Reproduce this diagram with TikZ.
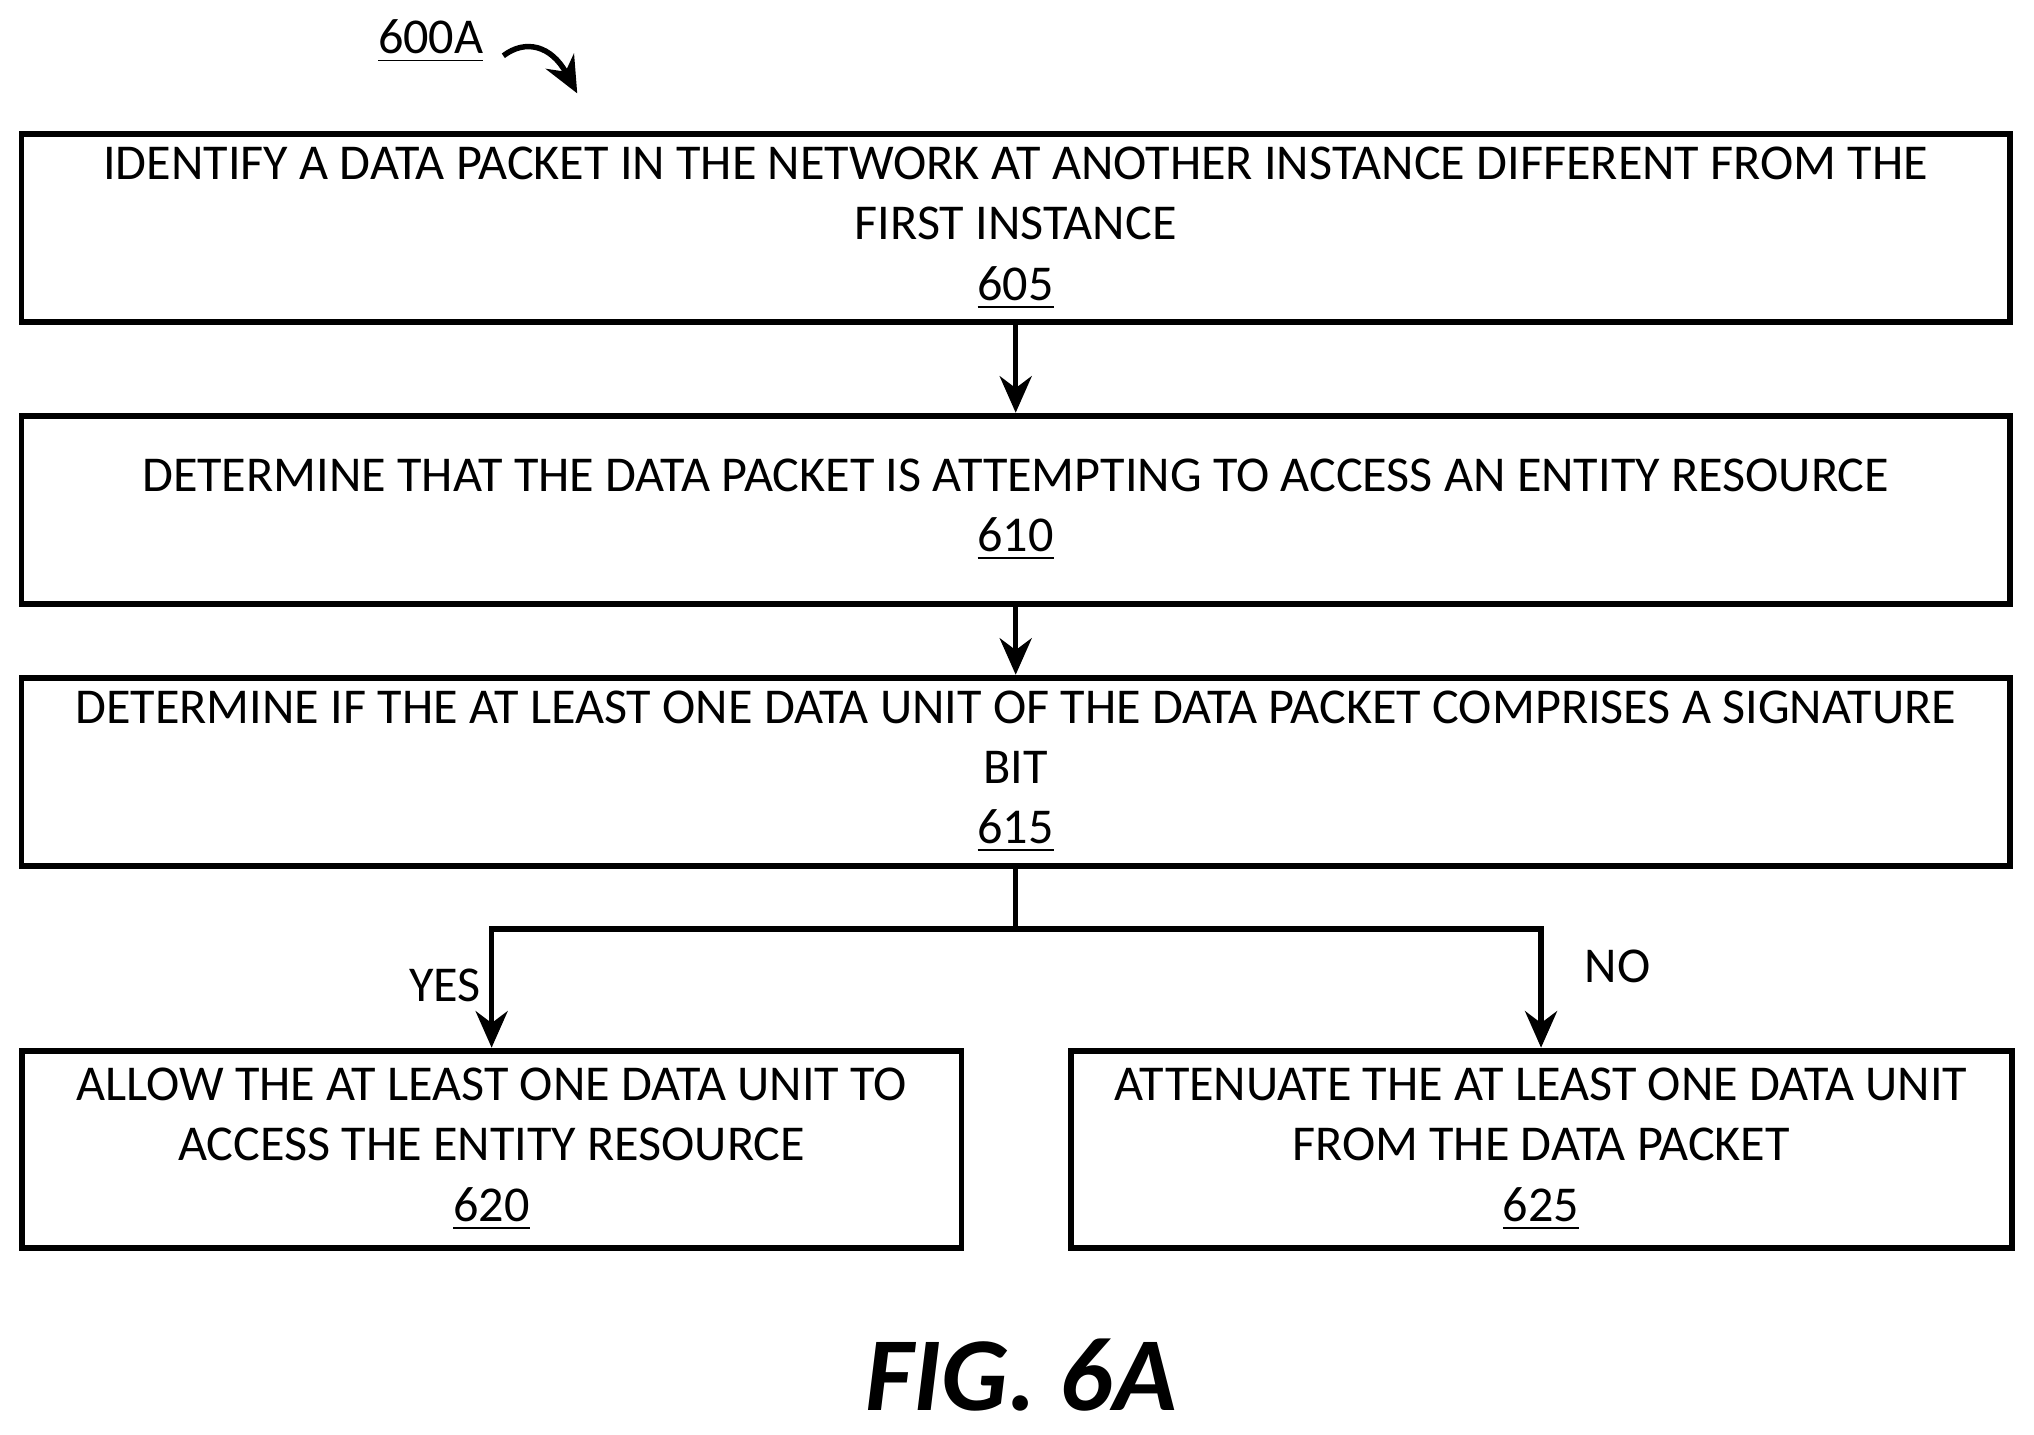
\documentclass[tikz,border=0pt]{standalone}
\usepackage{fontspec}
\setmainfont{Carlito}
\usetikzlibrary{arrows.meta}
\begin{document}
\begin{tikzpicture}[x=0.01cm,y=-0.01cm,
  box/.style={draw, line width=1.3pt, minimum height=1.45cm, align=center, font=\fontsize{11pt}{13.2pt}\selectfont, inner sep=2pt},
  arr/.style={line width=1.2pt, -{Stealth[length=8pt,width=7pt]}},
  lbl/.style={font=\fontsize{11pt}{13.2pt}\selectfont}]
\useasboundingbox (0,0) rectangle (1568,1106);
\node[box, minimum width=15.32cm] (b605) at (783,176) {IDENTIFY A DATA PACKET IN THE NETWORK AT ANOTHER INSTANCE DIFFERENT FROM THE\\FIRST INSTANCE\\\underline{605}};
\node[box, minimum width=15.32cm] (b610) at (783,393) {DETERMINE THAT THE DATA PACKET IS ATTEMPTING TO ACCESS AN ENTITY RESOURCE\\\underline{610}};
\node[box, minimum width=15.32cm] (b615) at (783,595) {DETERMINE IF THE AT LEAST ONE DATA UNIT OF THE DATA PACKET COMPRISES A SIGNATURE\\BIT\\\underline{615}};
\node[box, minimum width=7.24cm, minimum height=1.52cm] (b620) at (379,886) {ALLOW THE AT LEAST ONE DATA UNIT TO\\ACCESS THE ENTITY RESOURCE\\\underline{620}};
\node[box, minimum width=7.25cm, minimum height=1.52cm] (b625) at (1188,886) {ATTENUATE THE AT LEAST ONE DATA UNIT\\FROM THE DATA PACKET\\\underline{625}};
\draw[arr] (b605) -- (b610);
\draw[arr] (b610) -- (b615);
\coordinate (j) at (783,716);
\draw[line width=1.2pt] (b615.south) -- (j);
\draw[arr] (j) -| (b620.north);
\draw[arr] (j) -| (b625.north);
\node[lbl] (yes) at (343,760) {YES};
\node[lbl] (no) at (1247,745) {NO};
\node[lbl] (t600) at (332,32) {\underline{600A}};
\coordinate (c1) at (388,43);
\coordinate (c2) at (445,72);
\draw[line width=1.2pt, -{Stealth[length=8pt,width=7pt]}] (c1) .. controls (405,30) and (425,35) .. (c2);
\node[font=\fontsize{23pt}{26pt}\selectfont\bfseries\itshape] (fig) at (787,1060) {FIG. 6A};
\end{tikzpicture}
\end{document}
